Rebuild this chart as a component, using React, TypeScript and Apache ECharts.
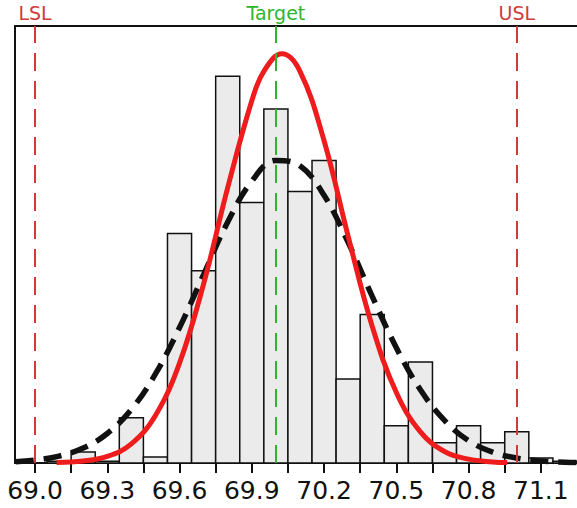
import React, { useEffect, useRef } from "react";
import * as echarts from "echarts";

// Histogram bins (bin centre, bin width 0.1) and heights
const binWidth = 0.1;
const binCenters = [69.1, 69.2, 69.3, 69.4, 69.5, 69.6, 69.7, 69.8, 69.9, 70.0, 70.1, 70.2, 70.3, 70.4, 70.5, 70.6, 70.7, 70.8, 70.9, 71.0, 71.1, 71.2];
const binHeights = [0.3, 2.0, 0.3, 8.3, 1.1, 42.0, 35.2, 70.8, 47.7, 64.8, 49.7, 55.4, 15.4, 27.2, 6.8, 18.5, 3.7, 6.8, 3.7, 5.7, 0.9, 0.3];

// Solid red fitted curve (within)
const withinX = [69.09, 69.2, 69.3, 69.4, 69.5, 69.6, 69.7, 69.8, 69.9, 69.95, 70.025, 70.1, 70.2, 70.3, 70.4, 70.5, 70.6, 70.7, 70.8, 70.9, 70.96];
const withinY = [0.1, 0.37, 1.2, 3.5, 8.7, 18.3, 32.8, 50.4, 66.3, 71.7, 74.9, 71.7, 59.0, 41.5, 25.0, 12.9, 5.7, 2.1, 0.7, 0.2, 0.1];

// Dashed black fitted curve (overall)
const overallX = [68.92, 69.0, 69.1, 69.2, 69.3, 69.4, 69.5, 69.6, 69.7, 69.8, 69.9, 70.0, 70.1, 70.2, 70.3, 70.4, 70.5, 70.6, 70.7, 70.8, 70.9, 71.0, 71.1, 71.2, 71.25];
const overallY = [0.25, 0.54, 1.26, 2.73, 5.4, 9.8, 16.3, 24.8, 34.5, 44.1, 51.6, 55.4, 54.4, 49.0, 40.4, 30.5, 21.1, 13.4, 7.8, 4.1, 2.0, 0.9, 0.37, 0.14, 0.08];

// Specification limits
const specNames = ["LSL", "Target", "USL"];
const specValues = [69.0, 70.0, 71.0];
const specColors = ["#cf3b3b", "#2db52d", "#cf3b3b"];

// Axis labels / ticks
const labelValues = [69.0, 69.3, 69.6, 69.9, 70.2, 70.5, 70.8, 71.1];
const tickValues = [69.0, 69.15, 69.3, 69.45, 69.6, 69.75, 69.9, 70.05, 70.2, 70.35, 70.5, 70.65, 70.8, 70.95, 71.1];

const xMin = 68.917;
const xMax = 71.25;
const yMax = 80;

export default function App() {
  const ref = useRef<HTMLDivElement>(null);

  useEffect(() => {
    if (!ref.current) return;
    const chart = echarts.init(ref.current, null, { renderer: "svg" });
    const font = "DejaVu Sans";

    const option: any = {
      animation: false,
      backgroundColor: "#ffffff",
      grid: { left: 15, right: 0, top: 26, bottom: 45, containLabel: false },
      xAxis: [
        {
          type: "value",
          min: xMin,
          max: xMax,
          position: "bottom",
          axisLine: { show: true, onZero: false, lineStyle: { color: "#111", width: 2 } },
          axisTick: {
            show: true,
            length: 10,
            inside: false,
            customValues: tickValues,
            lineStyle: { color: "#111", width: 2 },
          },
          axisLabel: {
            show: true,
            customValues: labelValues,
            formatter: (v: number) => v.toFixed(1),
            color: "#111",
            fontSize: 25,
            fontFamily: font,
            margin: 15,
          },
          splitLine: { show: false },
        },
        {
          type: "value",
          min: xMin,
          max: xMax,
          position: "top",
          axisLine: { show: true, onZero: false, lineStyle: { color: "#111", width: 2 } },
          axisTick: { show: false },
          axisLabel: { show: false },
          splitLine: { show: false },
        },
      ],
      yAxis: {
        type: "value",
        min: 0,
        max: yMax,
        axisLine: { show: true, onZero: false, lineStyle: { color: "#111", width: 2 } },
        axisTick: { show: false },
        axisLabel: { show: false },
        splitLine: { show: false },
      },
      series: [
        {
          name: "Spec",
          type: "line",
          data: [],
          z: 1,
          markLine: {
            silent: true,
            symbol: ["none", "none"],
            data: specNames.map((n, i) => ({
              name: n,
              xAxis: specValues[i],
              lineStyle: { color: specColors[i], width: 2, type: [18, 10] },
              label: {
                show: true,
                position: "end",
                formatter: "{b}",
                color: specColors[i],
                fontSize: 19,
                fontFamily: font,
                distance: 4,
              },
            })),
          },
        },
        {
          name: "Histogram",
          type: "custom",
          z: 2,
          data: binCenters.map((c, i) => [c, binHeights[i]]),
          renderItem: (params: any, api: any) => {
            const c = api.value(0);
            const v = api.value(1);
            const p0 = api.coord([c - binWidth / 2, v]);
            const p1 = api.coord([c + binWidth / 2, 0]);
            return {
              type: "rect",
              shape: { x: p0[0], y: p0[1], width: p1[0] - p0[0], height: p1[1] - p0[1] },
              style: { fill: "#ebebeb", stroke: "#111", lineWidth: 1.5 },
            };
          },
        },
        {
          name: "Overall",
          type: "line",
          z: 3,
          smooth: 0.4,
          showSymbol: false,
          data: overallX.map((x, i) => [x, overallY[i]]),
          lineStyle: { color: "#111", width: 5.5, type: [18, 10], cap: "butt" },
        },
        {
          name: "Within",
          type: "line",
          z: 4,
          smooth: 0.4,
          showSymbol: false,
          data: withinX.map((x, i) => [x, withinY[i]]),
          lineStyle: { color: "#ee1c1c", width: 5 },
        },
      ],
    };

    chart.setOption(option);
    return () => chart.dispose();
  }, []);

  return (
    <div
      ref={ref}
      style={{ position: "fixed", left: 0, top: 0, width: 577, height: 508, background: "#fff" }}
    />
  );
}
